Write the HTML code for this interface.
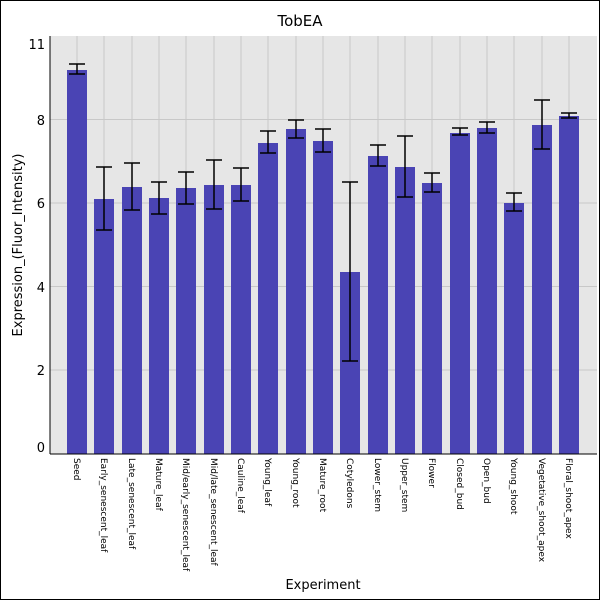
<!DOCTYPE html>
<html><head><style>body{margin:0;background:#fff}svg{display:block}</style></head><body>
<svg width="600" height="600" xmlns="http://www.w3.org/2000/svg" font-family="'DejaVu Sans', 'Liberation Sans', sans-serif">
<rect x="0.5" y="0.5" width="599" height="599" fill="#fff" stroke="#000"/>
<rect x="50" y="36" width="547" height="418" fill="#e6e6e6"/>
<g stroke="#c8c8c8" stroke-width="1">
<line x1="50" x2="597" y1="119.5" y2="119.5"/><line x1="50" x2="597" y1="203" y2="203"/><line x1="50" x2="597" y1="286.5" y2="286.5"/><line x1="50" x2="597" y1="370" y2="370"/>
<path d="M77 36V454M104 36V454M132 36V454M159 36V454M186 36V454M214 36V454M241 36V454M268 36V454M296 36V454M323 36V454M350 36V454M378 36V454M405 36V454M432 36V454M460 36V454M487 36V454M514 36V454M542 36V454M569 36V454"/>
</g>
<g fill="#4a44b4">
<rect x="67" y="70" width="20" height="384"/>
<rect x="94" y="199" width="20" height="255"/>
<rect x="122" y="187" width="20" height="267"/>
<rect x="149" y="198" width="20" height="256"/>
<rect x="176" y="188" width="20" height="266"/>
<rect x="204" y="185" width="20" height="269"/>
<rect x="231" y="185" width="20" height="269"/>
<rect x="258" y="143" width="20" height="311"/>
<rect x="286" y="129" width="20" height="325"/>
<rect x="313" y="141" width="20" height="313"/>
<rect x="340" y="272" width="20" height="182"/>
<rect x="368" y="156" width="20" height="298"/>
<rect x="395" y="167" width="20" height="287"/>
<rect x="422" y="183" width="20" height="271"/>
<rect x="450" y="133" width="20" height="321"/>
<rect x="477" y="128" width="20" height="326"/>
<rect x="504" y="203" width="20" height="251"/>
<rect x="532" y="125" width="20" height="329"/>
<rect x="559" y="116" width="20" height="338"/>
</g>
<path fill="none" stroke="#000" stroke-width="1.5" d="
M77 64V74M69 64H85M69 74H85
M104 167V230M96 167H112M96 230H112
M132 163V210M124 163H140M124 210H140
M159 182V214M151 182H167M151 214H167
M186 172V204M178 172H194M178 204H194
M214 160V209M206 160H222M206 209H222
M241 168V201M233 168H249M233 201H249
M268 131V153M260 131H276M260 153H276
M296 120V138M288 120H304M288 138H304
M323 129V152M315 129H331M315 152H331
M350 182V361M342 182H358M342 361H358
M378 145V166M370 145H386M370 166H386
M405 136V197M397 136H413M397 197H413
M432 173V192M424 173H440M424 192H440
M460 128V135M452 128H468M452 135H468
M487 122V133M479 122H495M479 133H495
M514 193V211M506 193H522M506 211H522
M542 100V149M534 100H550M534 149H550
M569 113V118M561 113H577M561 118H577"/>
<line x1="50" y1="36" x2="50" y2="454" stroke="#000"/>
<line x1="50" y1="454" x2="597" y2="454" stroke="#000"/>
<g font-size="13" text-anchor="end" fill="#000">
<text x="45" y="49">11</text><text x="45" y="125">8</text><text x="45" y="208">6</text><text x="45" y="292">4</text><text x="45" y="375">2</text><text x="45" y="452">0</text>
</g>
<text x="300" y="26" font-size="15" text-anchor="middle">TobEA</text>
<text x="323" y="589" font-size="13" text-anchor="middle">Experiment</text>
<text transform="translate(22,245) rotate(-90)" font-size="13" text-anchor="middle">Expression_(Fluor_Intensity)</text>
<g font-size="9">
<text transform="translate(74,458) rotate(90)">Seed</text>
<text transform="translate(101,458) rotate(90)">Early_senescent_leaf</text>
<text transform="translate(129,458) rotate(90)">Late_senescent_leaf</text>
<text transform="translate(156,458) rotate(90)">Mature_leaf</text>
<text transform="translate(183,458) rotate(90)">Mid/early_senescent_leaf</text>
<text transform="translate(211,458) rotate(90)">Mid/late_senescent_leaf</text>
<text transform="translate(238,458) rotate(90)">Cauline_leaf</text>
<text transform="translate(265,458) rotate(90)">Young_leaf</text>
<text transform="translate(293,458) rotate(90)">Young_root</text>
<text transform="translate(320,458) rotate(90)">Mature_root</text>
<text transform="translate(347,458) rotate(90)">Cotyledons</text>
<text transform="translate(375,458) rotate(90)">Lower_stem</text>
<text transform="translate(402,458) rotate(90)">Upper_stem</text>
<text transform="translate(429,458) rotate(90)">Flower</text>
<text transform="translate(457,458) rotate(90)">Closed_bud</text>
<text transform="translate(484,458) rotate(90)">Open_bud</text>
<text transform="translate(511,458) rotate(90)">Young_shoot</text>
<text transform="translate(539,458) rotate(90)">Vegetative_shoot_apex</text>
<text transform="translate(566,458) rotate(90)">Floral_shoot_apex</text>
</g>
</svg>
</body></html>
